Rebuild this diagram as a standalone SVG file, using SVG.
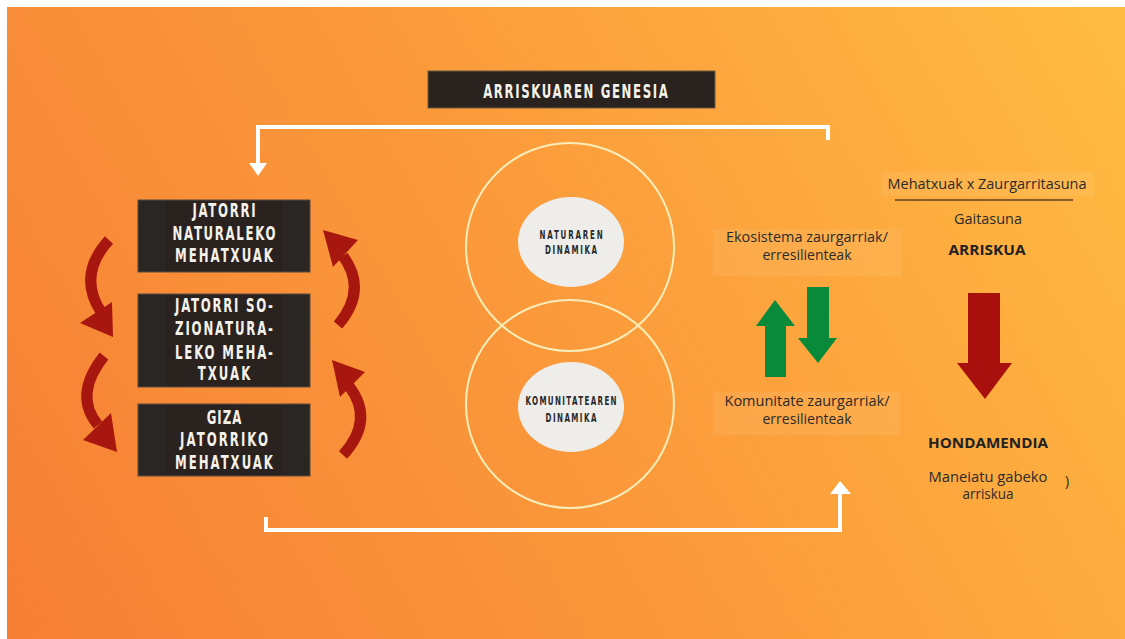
<svg xmlns="http://www.w3.org/2000/svg" width="1125" height="639" viewBox="0 0 1125 639">
<defs>
<linearGradient id="bg" x1="0" y1="639" x2="1125" y2="0" gradientUnits="userSpaceOnUse">
<stop offset="0" stop-color="#F67F35"/>
<stop offset="0.5" stop-color="#FB9A3B"/>
<stop offset="1" stop-color="#FFBC42"/>
</linearGradient>
<style>
.box{fill:#2A2624;stroke:#5a4a3a;stroke-width:1}
.inner{fill:#2A221E}
.bt{font-family:"DejaVu Sans",sans-serif;font-weight:bold;font-size:19px;fill:#F4F1EA;text-anchor:middle}
.et{font-family:"DejaVu Sans",sans-serif;font-weight:bold;font-size:11.5px;fill:#2a2a2a;text-anchor:middle}
.rt{font-family:"Open Sans","Noto Sans",sans-serif;font-size:14px;fill:#2b2b2b;text-anchor:middle}
.rb{font-family:"Open Sans","Noto Sans",sans-serif;font-weight:bold;font-size:15px;fill:#222;text-anchor:middle}
.conn{fill:none;stroke:#FFFFFF;stroke-width:4}
.red{fill:none;stroke:#A8170F;stroke-width:11}
.redh{fill:#A8170F}
.ring{fill:none;stroke:#F8EDB8;stroke-width:2}
.patch{fill:#FFFFFF;fill-opacity:0.07}
</style>
</defs>
<rect x="0" y="0" width="1125" height="639" fill="#FFFFFF"/>
<rect x="7" y="7" width="1118" height="632" fill="url(#bg)"/>

<g id="title">
<rect x="428" y="71" width="287" height="37" fill="#2A221E" stroke="#6a5a40" stroke-width="1"/>
<g transform="translate(575.5 0) scale(0.62 1)">
<text x="0" y="98" class="bt" font-size="16" font-weight="normal" textLength="298" lengthAdjust="spacing">ARRISKUAREN GENESIA</text>
</g>
</g>

<g id="connectors">
<polyline class="conn" points="828,140 828,127 258,127 258,165"/>
<polygon fill="#FFFFFF" points="249,163 267,163 258,176"/>
<polyline class="conn" points="266,517 266,530 840,530 840,492"/>
<polygon fill="#FFFFFF" points="830,494 851,494 840,481"/>
</g>

<g id="cycle-arrows">
<path class="red" d="M109,240 Q77,275 101,312"/>
<polygon class="redh" points="80,323 112,302 113,337"/>
<path class="red" d="M104,356 Q73,395 98,425"/>
<polygon class="redh" points="83,440 111,413 117,452"/>
<path class="red" d="M338,325 Q368,290 343,256"/>
<polygon class="redh" points="323,230 358,240 333,267"/>
<path class="red" d="M343,455 Q375,420 349,386"/>
<polygon class="redh" points="332,360 365,372 340,397"/>
</g>

<g id="box-natural">
<rect class="box" x="138" y="200" width="172" height="72"/>
<rect class="inner" x="165" y="201" width="118" height="70"/>
<g transform="translate(224 0) scale(0.62 1)">
<text class="bt" x="0" y="217" textLength="102" lengthAdjust="spacing">JATORRI</text>
<text class="bt" x="0" y="240" textLength="166" lengthAdjust="spacing">NATURALEKO</text>
<text class="bt" x="0" y="262" textLength="158" lengthAdjust="spacing">MEHATXUAK</text>
</g>
</g>

<g id="box-sozionatural">
<rect class="box" x="138" y="294" width="172" height="93"/>
<rect class="inner" x="165" y="295" width="118" height="91"/>
<g transform="translate(224 0) scale(0.62 1)">
<text class="bt" x="0" y="312" textLength="158" lengthAdjust="spacing">JATORRI SO-</text>
<text class="bt" x="0" y="335" textLength="158" lengthAdjust="spacing">ZIONATURA-</text>
<text class="bt" x="0" y="359" textLength="158" lengthAdjust="spacing">LEKO MEHA-</text>
<text class="bt" x="0" y="380" textLength="85" lengthAdjust="spacing">TXUAK</text>
</g>
</g>

<g id="box-giza">
<rect class="box" x="138" y="404" width="172" height="72"/>
<rect class="inner" x="165" y="405" width="118" height="70"/>
<g transform="translate(224 0) scale(0.62 1)">
<text class="bt" x="0" y="424" textLength="56" lengthAdjust="spacing">GIZA</text>
<text class="bt" x="0" y="446" textLength="142" lengthAdjust="spacing">JATORRIKO</text>
<text class="bt" x="0" y="469" textLength="158" lengthAdjust="spacing">MEHATXUAK</text>
</g>
</g>

<g id="natura-dinamika">
<circle class="ring" cx="570" cy="247" r="104"/>
<ellipse cx="571" cy="242" rx="53" ry="45" fill="#EEEDEA"/>
<g transform="translate(571 0) scale(0.62 1)">
<text class="et" x="0" y="239" textLength="102" lengthAdjust="spacing">NATURAREN</text>
<text class="et" x="0" y="254" textLength="84" lengthAdjust="spacing">DINAMIKA</text>
</g>
</g>

<g id="komunitate-dinamika">
<circle class="ring" cx="570" cy="404" r="104"/>
<ellipse cx="571" cy="407" rx="53" ry="45" fill="#EEEDEA"/>
<g transform="translate(571 0) scale(0.62 1)">
<text class="et" x="0" y="405" textLength="147" lengthAdjust="spacing">KOMUNITATEAREN</text>
<text class="et" x="0" y="422" textLength="82" lengthAdjust="spacing">DINAMIKA</text>
</g>
</g>

<g id="ekosistema">
<rect class="patch" x="713" y="229" width="189" height="47"/>
<text class="rt" x="807" y="242" textLength="162" lengthAdjust="spacingAndGlyphs">Ekosistema zaurgarriak/</text>
<text class="rt" x="807" y="260" textLength="89" lengthAdjust="spacingAndGlyphs">erresilienteak</text>
</g>

<g id="green-arrows">
<polygon fill="#088A3A" points="765,377 786,377 786,326 795,326 775,300 756,326 765,326"/>
<polygon fill="#088A3A" points="807,287 829,287 829,338 837,338 818,363 798,338 807,338"/>
</g>

<g id="komunitate">
<rect class="patch" x="713" y="392" width="187" height="43"/>
<text class="rt" x="807" y="406" textLength="165" lengthAdjust="spacingAndGlyphs">Komunitate zaurgarriak/</text>
<text class="rt" x="807" y="424" textLength="89" lengthAdjust="spacingAndGlyphs">erresilienteak</text>
</g>

<g id="arriskua">
<rect class="patch" x="882" y="172" width="212" height="24"/>
<text class="rt" x="987" y="189" textLength="199" lengthAdjust="spacingAndGlyphs">Mehatxuak x Zaurgarritasuna</text>
<line x1="895" y1="200" x2="1073" y2="200" stroke="#8A5A30" stroke-width="2"/>
<text class="rt" x="988" y="224" textLength="68" lengthAdjust="spacingAndGlyphs">Gaitasuna</text>
<text class="rb" x="987" y="255" textLength="77" lengthAdjust="spacingAndGlyphs">ARRISKUA</text>
</g>

<g id="red-arrow">
<polygon fill="#A8100E" points="968,293 1000,293 1000,363 1012,363 985,399 957,363 968,363"/>
</g>

<g id="hondamendia">
<text class="rb" x="988" y="448" textLength="120" lengthAdjust="spacingAndGlyphs">HONDAMENDIA</text>
<text class="rt" x="988" y="482" textLength="119" lengthAdjust="spacingAndGlyphs">Maneiatu gabeko</text>
<text class="rt" x="988" y="499" textLength="51" lengthAdjust="spacingAndGlyphs">arriskua</text>
<text class="rt" x="1067" y="486" font-size="10">)</text>
</g>
</svg>
